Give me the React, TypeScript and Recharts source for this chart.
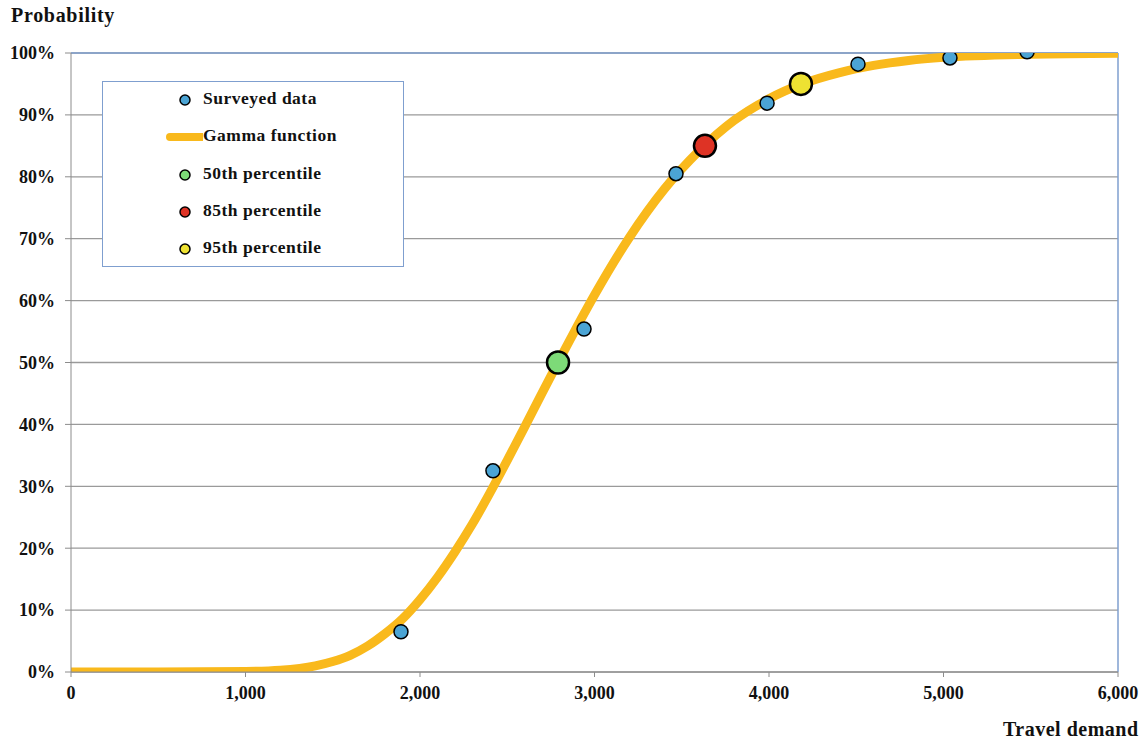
import React from "react";
import {
  ComposedChart,
  Line,
  Scatter,
  XAxis,
  YAxis,
  CartesianGrid,
  ReferenceLine,
  Legend,
} from "recharts";

// gamma curve
const curveX = [0, 500, 1000, 1200, 1400, 1500, 1600, 1700, 1800, 1900, 2000, 2100, 2200, 2300, 2400, 2500, 2600, 2700, 2800, 2900, 3000, 3200, 3400, 3600, 3800, 4000, 4200, 4400, 4600, 4800, 5000, 5500, 6000];
const curveY = [0, 0, 0.001, 0.003, 0.01, 0.017, 0.027, 0.042, 0.062, 0.086, 0.117, 0.153, 0.194, 0.239, 0.289, 0.342, 0.396, 0.451, 0.505, 0.558, 0.609, 0.702, 0.78, 0.842, 0.891, 0.926, 0.951, 0.968, 0.98, 0.988, 0.993, 0.998, 0.9995];

const surveyX = [1891, 2418, 2940, 3467, 3989, 4510, 5037, 5479];
const surveyY = [0.065, 0.325, 0.554, 0.805, 0.919, 0.982, 0.992, 1.002];

const p50 = [{ x: 2791, y: 0.5 }];
const p85 = [{ x: 3633, y: 0.85 }];
const p95 = [{ x: 4183, y: 0.95 }];

const xTicks = [0, 1000, 2000, 3000, 4000, 5000, 6000];
const yTicks = [0, 0.1, 0.2, 0.3, 0.4, 0.5, 0.6, 0.7, 0.8, 0.9, 1];

const curve = curveX.map((x, i) => ({ x, y: curveY[i] }));
const survey = surveyX.map((x, i) => ({ x, y: surveyY[i] }));

const FONT = "'Liberation Serif', 'Times New Roman', serif";
const ORANGE = "#F9B91C";
const BLUE_PT = "#4BA4D4";
const BORDER = "#7F9FCF";

const legendItems = [
  { label: "Surveyed data", kind: "dot", color: BLUE_PT },
  { label: "Gamma function", kind: "line", color: ORANGE },
  { label: "50th percentile", kind: "dot", color: "#7DDA78" },
  { label: "85th percentile", kind: "dot", color: "#DE3325" },
  { label: "95th percentile", kind: "dot", color: "#EEE232" },
];

const LegendBox = () => (
  <div
    style={{
      width: 300,
      height: 184,
      border: `1px solid ${BORDER}`,
      background: "#fff",
      position: "relative",
      fontFamily: FONT,
    }}
  >
    {legendItems.map((it, i) => (
      <div key={it.label} style={{ position: "absolute", left: 0, top: 18 + i * 37.3 - 12, height: 24, width: 300 }}>
        <svg width={100} height={24} style={{ position: "absolute", left: 0, top: 0 }}>
          {it.kind === "dot" ? (
            <circle cx={82} cy={12} r={5} fill={it.color} stroke="#000" strokeWidth={1.5} />
          ) : (
            <line x1={67} x2={100} y1={12} y2={12} stroke={it.color} strokeWidth={8} strokeLinecap="round" />
          )}
        </svg>
        <span
          style={{
            position: "absolute",
            left: 100,
            top: 0,
            fontSize: 17.5,
            fontWeight: "bold",
            letterSpacing: 0.5,
            whiteSpace: "nowrap",
            color: "#111",
          }}
        >
          {it.label}
        </span>
      </div>
    ))}
  </div>
);

const dotShape = (r: number, fill: string, sw: number) => (props: any) =>
  <circle cx={props.cx} cy={props.cy} r={r} fill={fill} stroke="#000" strokeWidth={sw} />;

const tickStyle = { fontFamily: FONT, fontSize: 18, fontWeight: "bold", fill: "#111" };

export default function App() {
  return (
    <div style={{ position: "absolute", left: 0, top: 0, width: 1148, height: 745, background: "#fff" }}>
      <div
        style={{
          position: "absolute",
          left: 11,
          top: 4,
          fontFamily: FONT,
          fontWeight: "bold",
          fontSize: 20,
          letterSpacing: 0.7,
          color: "#111",
        }}
      >
        Probability
      </div>
      <div
        style={{
          position: "absolute",
          left: 1003,
          top: 718,
          fontFamily: FONT,
          fontWeight: "bold",
          fontSize: 20,
          letterSpacing: 0.5,
          color: "#111",
          whiteSpace: "nowrap",
        }}
      >
        Travel demand
      </div>
      <ComposedChart width={1148} height={745} margin={{ top: 53, right: 30, bottom: 0, left: 0 }}>
        <CartesianGrid vertical={false} stroke="#9a9a9a" strokeWidth={1.3} />
        <XAxis
          type="number"
          dataKey="x"
          domain={[0, 6000]}
          ticks={xTicks}
          allowDataOverflow
          tickFormatter={(v) => v.toLocaleString("en-US")}
          tick={tickStyle}
          stroke="#8c8c8c"
          tickSize={5}
          tickMargin={9}
          height={73}
        />
        <YAxis
          type="number"
          dataKey="y"
          domain={[0, 1]}
          ticks={yTicks}
          allowDataOverflow
          tickFormatter={(v) => `${Math.round(v * 100)}%`}
          tick={tickStyle}
          stroke="#8c8c8c"
          tickSize={6}
          tickMargin={10}
          width={71}
        />
        <ReferenceLine y={1} stroke={BORDER} strokeWidth={1.5} />
        <ReferenceLine x={6000} stroke={BORDER} strokeWidth={1.5} />
        <Legend
          layout="vertical"
          align="center"
          verticalAlign="middle"
          wrapperStyle={{ left: 102, top: 81, width: 302, height: 186 }}
          content={() => <LegendBox />}
        />
        <Line
          data={curve}
          dataKey="y"
          type="monotone"
          stroke={ORANGE}
          strokeWidth={9}
          dot={false}
          activeDot={false}
          isAnimationActive={false}
          name="Gamma function"
        />
        <Scatter data={survey} dataKey="y" shape={dotShape(7, BLUE_PT, 1.5)} isAnimationActive={false} name="Surveyed data" />
        <Scatter data={p50} dataKey="y" shape={dotShape(11, "#7DDA78", 2.5)} isAnimationActive={false} name="50th percentile" />
        <Scatter data={p85} dataKey="y" shape={dotShape(11, "#DE3325", 2.5)} isAnimationActive={false} name="85th percentile" />
        <Scatter data={p95} dataKey="y" shape={dotShape(11, "#EEE232", 2.5)} isAnimationActive={false} name="95th percentile" />
      </ComposedChart>
    </div>
  );
}
